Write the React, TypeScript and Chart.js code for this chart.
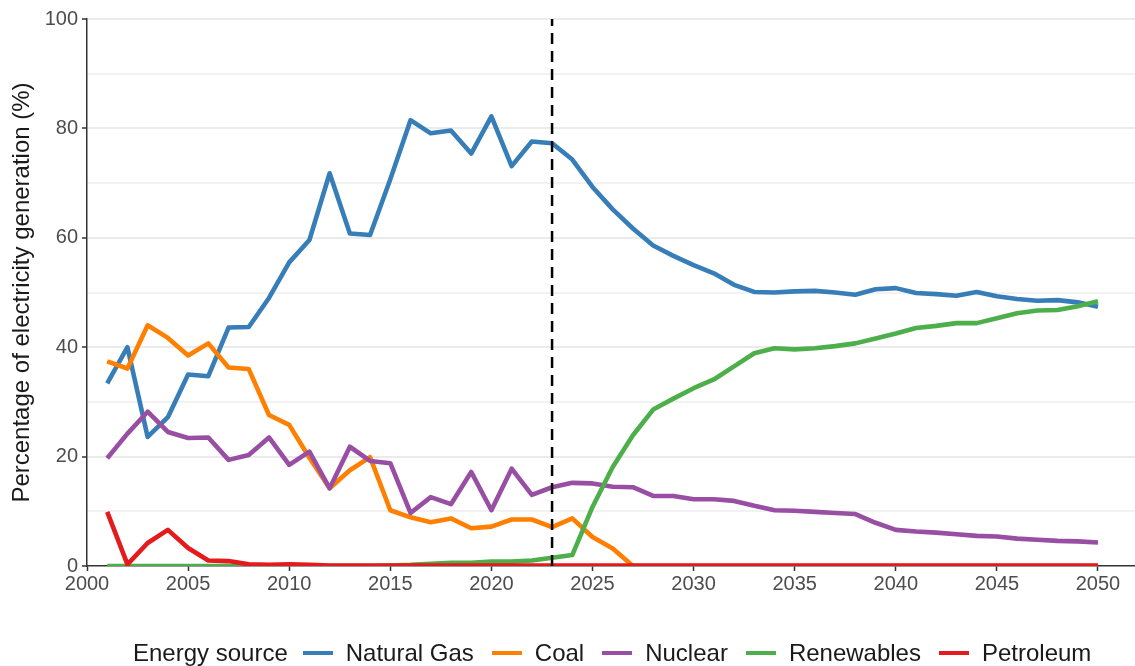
import React, { useEffect, useRef } from "react";
import { Chart, registerables } from "chart.js";
Chart.register(...registerables);

const years = [
  2001, 2002, 2003, 2004, 2005, 2006, 2007, 2008, 2009, 2010,
  2011, 2012, 2013, 2014, 2015, 2016, 2017, 2018, 2019, 2020,
  2021, 2022, 2023, 2024, 2025, 2026, 2027, 2028, 2029, 2030,
  2031, 2032, 2033, 2034, 2035, 2036, 2037, 2038, 2039, 2040,
  2041, 2042, 2043, 2044, 2045, 2046, 2047, 2048, 2049, 2050,
];

const naturalGas = [
  33.4, 40.0, 23.6, 27.2, 35.0, 34.7, 43.6, 43.7, 49.0, 55.5,
  59.6, 71.8, 60.8, 60.5, 70.7, 81.5, 79.1, 79.6, 75.4, 82.2,
  73.1, 77.6, 77.3, 74.3, 69.3, 65.2, 61.7, 58.6, 56.7, 55.0,
  53.5, 51.4, 50.1, 50.0, 50.2, 50.3, 50.0, 49.6, 50.6, 50.8,
  49.9, 49.7, 49.4, 50.1, 49.3, 48.8, 48.5, 48.6, 48.2, 47.4,
];

const coal = [
  37.4, 36.1, 44.0, 41.7, 38.5, 40.7, 36.3, 36.0, 27.6, 25.8,
  19.8, 14.2, 17.5, 19.9, 10.2, 8.9, 8.0, 8.7, 6.9, 7.2,
  8.5, 8.5, 7.1, 8.7, 5.3, 3.2, 0, 0, 0, 0,
  0, 0, 0, 0, 0, 0, 0, 0, 0, 0,
  0, 0, 0, 0, 0, 0, 0, 0, 0, 0,
];

const nuclear = [
  19.7, 24.2, 28.2, 24.5, 23.4, 23.5, 19.4, 20.3, 23.5, 18.5,
  20.9, 14.2, 21.8, 19.2, 18.8, 9.7, 12.6, 11.3, 17.2, 10.2,
  17.8, 13.0, 14.4, 15.2, 15.1, 14.5, 14.4, 12.8, 12.8, 12.2,
  12.2, 11.9, 11.0, 10.2, 10.1, 9.9, 9.7, 9.5, 7.9, 6.6,
  6.3, 6.1, 5.8, 5.5, 5.4, 5.0, 4.8, 4.6, 4.5, 4.3,
];

const renewables = [
  0, 0, 0, 0, 0, 0, 0, 0, 0, 0,
  0, 0, 0, 0, 0.1, 0.2, 0.4, 0.6, 0.6, 0.8,
  0.8, 1.0, 1.5, 2.0, 10.8, 18.1, 23.9, 28.6, 30.6, 32.5,
  34.1, 36.5, 38.9, 39.8, 39.6, 39.8, 40.2, 40.7, 41.6, 42.5,
  43.5, 43.9, 44.4, 44.4, 45.3, 46.2, 46.7, 46.8, 47.5, 48.4,
];

const petroleum = [
  9.9, 0.3, 4.2, 6.6, 3.3, 1.0, 0.9, 0.3, 0.2, 0.3,
  0.2, 0.1, 0.1, 0.1, 0.1, 0.1, 0.1, 0.1, 0.1, 0.1,
  0.1, 0.1, 0.1, 0.1, 0.1, 0.1, 0.1, 0.1, 0.1, 0.1,
  0.1, 0.1, 0.1, 0.1, 0.1, 0.1, 0.1, 0.1, 0.1, 0.1,
  0.1, 0.1, 0.1, 0.1, 0.1, 0.1, 0.1, 0.1, 0.1, 0.1,
];

const seriesNames = ["Natural Gas", "Coal", "Nuclear", "Renewables", "Petroleum"];
const seriesValues = [naturalGas, coal, nuclear, renewables, petroleum];
const seriesColors = ["#377EB8", "#FF7F00", "#984EA3", "#4DAF4A", "#E41A1C"];

const xTicks = [2000, 2005, 2010, 2015, 2020, 2025, 2030, 2035, 2040, 2045, 2050];
const yTicks = [0, 10, 20, 30, 40, 50, 60, 70, 80, 90, 100];
const yLabelStep = 20;
const projectionYear = 2023;

const legendTitle = "Energy source";
const yTitle = "Percentage of electricity generation (%)";

const FONT = '"Liberation Sans", Arial, Helvetica, sans-serif';

export default function App() {
  const ref = useRef<HTMLCanvasElement | null>(null);

  useEffect(() => {
    document.body.style.margin = "0";
    const canvas = ref.current;
    if (!canvas) return;

    const lineSets = seriesNames
      .map((name, i) => ({
        type: "line" as const,
        label: name,
        data: years.map((yr, j) => ({ x: yr, y: seriesValues[i][j] })),
        borderColor: seriesColors[i],
        backgroundColor: seriesColors[i],
        borderWidth: 4.6,
        pointRadius: 0,
        pointHoverRadius: 0,
        tension: 0,
        fill: false,
        borderJoinStyle: "round" as const,
        borderCapStyle: "butt" as const,
      }))
      .reverse();

    const dashed = {
      type: "line" as const,
      label: "projection",
      data: [
        { x: projectionYear, y: 0 },
        { x: projectionYear, y: 100 },
      ],
      borderColor: "#000000",
      borderWidth: 2.5,
      borderDash: [11, 7],
      pointRadius: 0,
      fill: false,
      clip: false,
    };

    const chart = new Chart(canvas, {
      type: "line",
      data: { datasets: [dashed, ...lineSets] as any },
      options: {
        responsive: false,
        animation: false,
        devicePixelRatio: 1,
        layout: { padding: { top: 19, left: 0, right: 0, bottom: 0 } },
        plugins: {
          legend: { display: false },
          tooltip: { enabled: false },
        },
        scales: {
          x: {
            type: "linear",
            min: 2000,
            max: 2051.83,
            afterBuildTicks: (s: any) => {
              s.ticks = xTicks.map((v) => ({ value: v }));
            },
            afterFit: (s: any) => {
              s.height = 100;
            },
            ticks: {
              autoSkip: false,
              maxRotation: 0,
              padding: 1,
              color: "#4D4D4D",
              font: { family: FONT, size: 20 },
              callback: (v: any) => String(v),
            },
            grid: {
              drawOnChartArea: false,
              drawTicks: true,
              tickLength: 5,
              tickColor: "#333333",
              tickWidth: 1.5,
            },
            border: { display: true, color: "#333333", width: 1.5 },
          },
          y: {
            type: "linear",
            min: 0,
            max: 100,
            afterBuildTicks: (s: any) => {
              s.ticks = yTicks.map((v) => ({ value: v }));
            },
            afterFit: (s: any) => {
              s.width = 87;
            },
            ticks: {
              padding: 4,
              color: "#4D4D4D",
              font: { family: FONT, size: 20 },
              callback: (v: any) => (Number(v) % yLabelStep === 0 ? String(v) : ""),
            },
            grid: {
              drawOnChartArea: true,
              drawTicks: true,
              tickLength: 5,
              lineWidth: 2,
              color: (ctx: any) =>
                ctx.tick && ctx.tick.value === 0
                  ? "rgba(0,0,0,0)"
                  : ctx.tick && ctx.tick.value % yLabelStep === 0
                  ? "#EBEBEB"
                  : "#F2F2F2",
              tickColor: (ctx: any) =>
                ctx.tick && ctx.tick.value % yLabelStep === 0 ? "#333333" : "rgba(0,0,0,0)",
              tickWidth: 1.5,
            },
            border: { display: true, color: "#333333", width: 1.5 },
            title: {
              display: true,
              text: yTitle,
              color: "#1A1A1A",
              font: { family: FONT, size: 24 },
              padding: { top: 8, bottom: 0 },
            },
          },
        },
      },
    });

    return () => chart.destroy();
  }, []);

  return (
    <div style={{ position: "relative", width: 1135, height: 666, overflow: "hidden", background: "#fff", fontFamily: FONT }}>
      <canvas ref={ref} width={1135} height={666} style={{ position: "absolute", left: 0, top: 0, width: 1135, height: 666 }} />
      <div
        style={{
          position: "absolute",
          left: 133,
          top: 639,
          display: "flex",
          alignItems: "center",
          whiteSpace: "nowrap",
          fontSize: 24,
          lineHeight: "28px",
          color: "#1A1A1A",
        }}
      >
        <span style={{ marginRight: 15 }}>{legendTitle}</span>
        {seriesNames.map((name, i) => (
          <React.Fragment key={name}>
            <span style={{ display: "inline-block", width: 30, height: 4.5, background: seriesColors[i], marginRight: 13 }} />
            <span style={{ marginRight: 18 }}>{name}</span>
          </React.Fragment>
        ))}
      </div>
    </div>
  );
}
